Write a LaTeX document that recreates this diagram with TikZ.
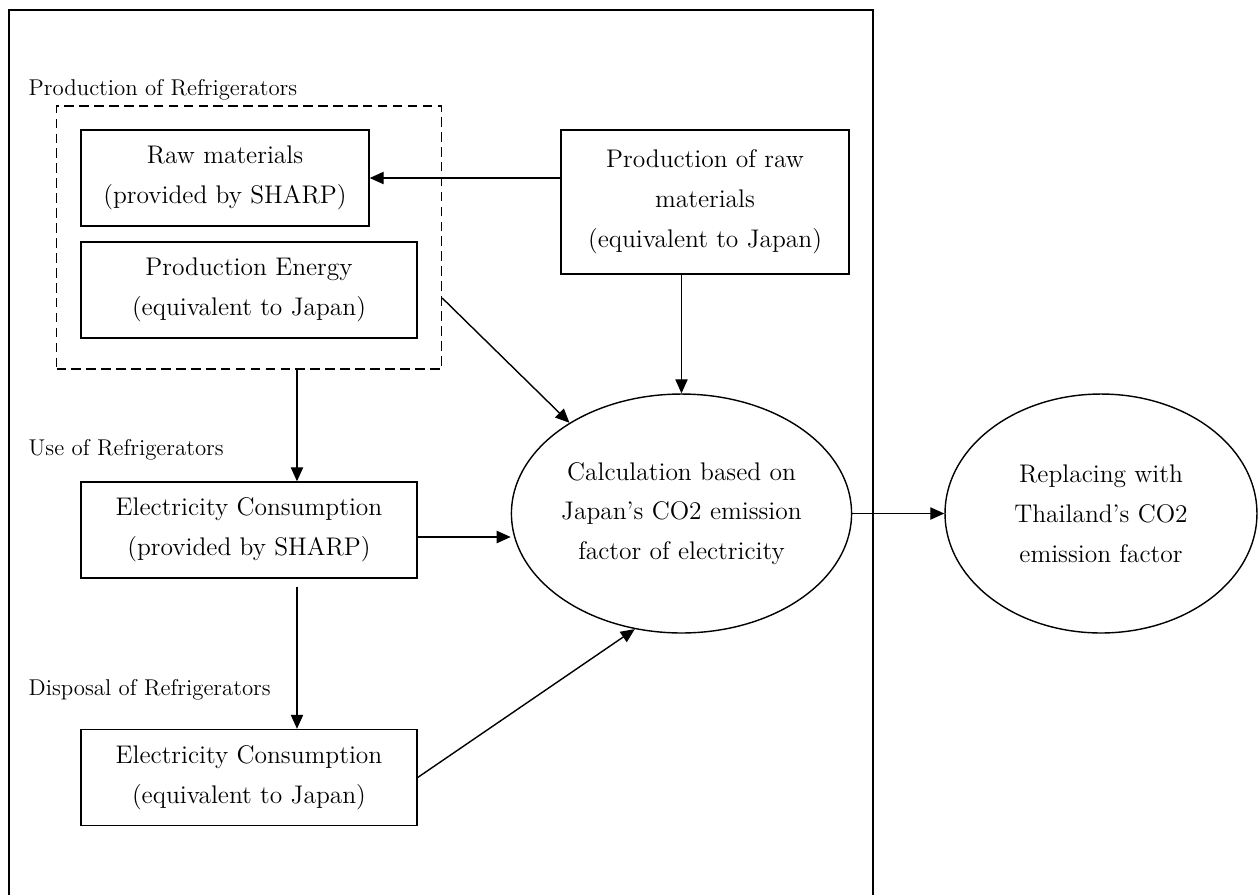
\documentclass[tikz,border=0pt]{standalone}
\usetikzlibrary{shapes.geometric,arrows.meta}
\begin{document}
\begin{tikzpicture}[x=0.02cm,y=-0.02cm,line width=0.8pt,
    box/.style={draw,rectangle,inner sep=0pt,align=center,font=\fontsize{14.5}{22.7}\selectfont},
    oval/.style={draw,ellipse,inner sep=0pt,align=center,font=\fontsize{14.5}{22.7}\selectfont},
    lbl/.style={anchor=west,inner sep=0pt,font=\fontsize{13}{16}\selectfont},
    arr/.style={-{Triangle[length=8pt,width=7pt]}}]
            \useasboundingbox (0,0) rectangle (1259,894);
            % outer frame, open at the bottom
            \draw (9,900) -- (9,10) -- (873,10) -- (873,900);
            % production stage
            \node (lprod) at (28,90) [lbl] {Production of Refrigerators};
            \node (prodgrp) at (249,237.5) [draw,dash pattern=on 5.5pt off 3pt,minimum width=7.7cm,minimum height=5.26cm] {};
            \node (raw) at (225,178) [box,minimum width=5.76cm,minimum height=1.92cm] {Raw materials\\(provided by SHARP)};
            \node (energy) at (249,290) [box,minimum width=6.72cm,minimum height=1.92cm] {Production Energy\\(equivalent to Japan)};
            \node (prodraw) at (705,202) [box,minimum width=5.76cm,minimum height=2.88cm] {Production of raw\\materials\\(equivalent to Japan)};
            % use and disposal stages
            \node (luse) at (28,450) [lbl] {Use of Refrigerators};
            \node (elec1) at (249,530) [box,minimum width=6.72cm,minimum height=1.92cm] {Electricity Consumption\\(provided by SHARP)};
            \node (ldisp) at (28,690) [lbl] {Disposal of Refrigerators};
            \node (elec2) at (249,777.5) [box,minimum width=6.72cm,minimum height=1.92cm] {Electricity Consumption\\(equivalent to Japan)};
            % calculation
            \node (calc) at (681.5,513.5) [oval,minimum width=6.74cm,minimum height=4.78cm] {Calculation based on\\Japan's CO2 emission\\factor of electricity};
            \node (repl) at (1101,513.5) [oval,minimum width=6.24cm,minimum height=4.78cm] {Replacing with\\Thailand's CO2\\emission factor};
            % connectors
            \draw[arr] (prodraw.west |- raw.east) -- (raw.east);
            \draw[arr] (calc.north |- prodraw.south) -- (calc.north);
            \draw[arr] ([yshift=-1.21cm]prodgrp.east) -- (calc.141);
            \draw[arr] ([xshift=0.96cm]prodgrp.south) -- ([xshift=0.96cm]elec1.north);
            \draw[arr] ([xshift=0.96cm,yshift=-0.16cm]elec1.south) -- ([xshift=0.96cm]elec2.north);
            \draw[arr] ([yshift=-0.14cm]elec1.east) -- ([yshift=-0.14cm]calc.west |- elec1.east);
            \draw[arr] (elec2.east) -- (calc.248);
            \draw[arr] (calc.east) -- (repl.west);
        \end{tikzpicture}
\end{document}
